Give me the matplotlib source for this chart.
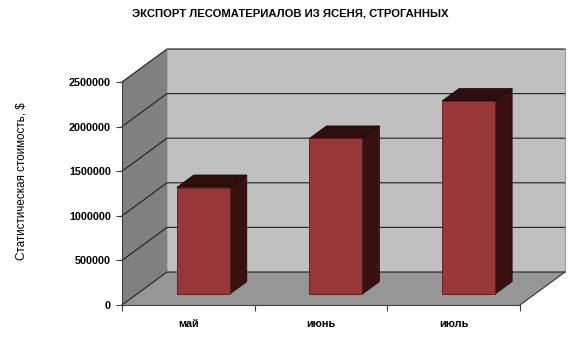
import matplotlib
matplotlib.use("Agg")
import matplotlib.pyplot as plt
from matplotlib.patches import Polygon

plt.rcParams['font.family'] = ['Liberation Sans', 'DejaVu Sans']

# ---- data ----
months = ['май', 'июнь', 'июль']
values = [1195000, 1745000, 2165000]
yticks = [0, 500000, 1000000, 1500000, 2000000, 2500000]
title = 'ЭКСПОРТ ЛЕСОМАТЕРИАЛОВ ИЗ ЯСЕНЯ, СТРОГАННЫХ'
ylabel = 'Статистическая стоимость, $'

W, H = 580, 354
fig = plt.figure(figsize=(W / 100, H / 100), dpi=100)
fig.patch.set_facecolor('white')

# front plane of the axes in pixels
x0p, x1p, y0p, y1p = 122, 520, 305, 82
ax = fig.add_axes([x0p / W, (H - y0p) / H, (x1p - x0p) / W, (y0p - y1p) / H])
ymax = 2500000
ax.set_xlim(0, len(months))
ax.set_ylim(0, ymax)
ax.set_facecolor('none')

# depth offset (full depth) in data units
DX = 45 / (x1p - x0p) * len(months)
DV = 33 / (y0p - y1p) * ymax


def P(x, v, d):
    return (x + d * DX, v + d * DV)


def poly(pts, fc, ec='none', lw=0.0, z=1):
    ax.add_patch(Polygon(pts, closed=True, facecolor=fc, edgecolor=ec,
                         linewidth=lw, zorder=z, clip_on=False))


n = len(months)
# back wall
poly([P(0, 0, 1), P(n, 0, 1), P(n, ymax, 1), P(0, ymax, 1)], '#c0c0c0',
     ec='#a0a0a0', lw=0.6, z=1)
# left wall
poly([P(0, 0, 0), P(0, 0, 1), P(0, ymax, 1), P(0, ymax, 0)], '#808080', z=1)
# floor
poly([P(0, 0, 0), P(n, 0, 0), P(n, 0, 1), P(0, 0, 1)], '#969696', z=1)

# gridlines
for v in yticks:
    xs, ys = zip(P(0, v, 0), P(0, v, 1), P(n, v, 1))
    ax.plot(xs, ys, color='#202020', lw=0.8, zorder=2, clip_on=False)
# floor right edge
xs, ys = zip(P(n, 0, 0), P(n, 0, 1))
ax.plot(xs, ys, color='#303030', lw=0.8, zorder=2, clip_on=False)
xs, ys = zip(P(n, 0, 1), P(n, ymax, 1))
ax.plot(xs, ys, color='#909090', lw=0.6, zorder=2, clip_on=False)

# bars
bw = 0.40
d0, d1 = 0.33, 0.71
front_c = '#973737'
side_c = '#3a1111'
top_c = '#2e0e0e'
for i, v in enumerate(values):
    xl = i + 0.5 - bw / 2
    xr = i + 0.5 + bw / 2
    # right side
    poly([P(xr, 0, d0), P(xr, 0, d1), P(xr, v, d1), P(xr, v, d0)], side_c,
         ec='#1a0505', lw=0.5, z=3)
    # top
    poly([P(xl, v, d0), P(xr, v, d0), P(xr, v, d1), P(xl, v, d1)], top_c,
         ec='#1a0505', lw=0.5, z=3)
    # front
    poly([P(xl, 0, d0), P(xr, 0, d0), P(xr, v, d0), P(xl, v, d0)], front_c,
         ec='#5a1a1a', lw=0.6, z=4)

# axes / ticks
for s in ['top', 'right']:
    ax.spines[s].set_visible(False)
ax.spines['left'].set_color('#404040')
ax.spines['bottom'].set_color('#404040')
ax.spines['left'].set_linewidth(0.8)
ax.spines['bottom'].set_linewidth(0.8)
ax.spines['left'].set_zorder(5)
ax.spines['bottom'].set_zorder(5)
ax.set_yticks(yticks)
ax.set_yticklabels([str(t) for t in yticks], fontsize=7.8, fontweight='bold')
ax.set_xticks(range(n + 1))
ax.set_xticklabels([''] * (n + 1))
ax.set_xticks([i + 0.5 for i in range(n)], minor=True)
ax.set_xticklabels(months, minor=True, fontsize=7.8, fontweight='bold')
ax.tick_params(axis='x', which='minor', length=0, pad=10)
ax.tick_params(axis='x', which='major', length=4, direction='out', color='#404040')
ax.tick_params(axis='y', length=4, direction='out', color='#404040', pad=4)

fig.text(290 / W, 1 - 14 / H, title, ha='center', va='center',
         fontsize=8.1, fontweight='bold')
fig.text(22 / W, 1 - 181 / H, ylabel, ha='center', va='center',
         rotation=90, fontsize=8.4)

fig.savefig('out.png', dpi=100)
